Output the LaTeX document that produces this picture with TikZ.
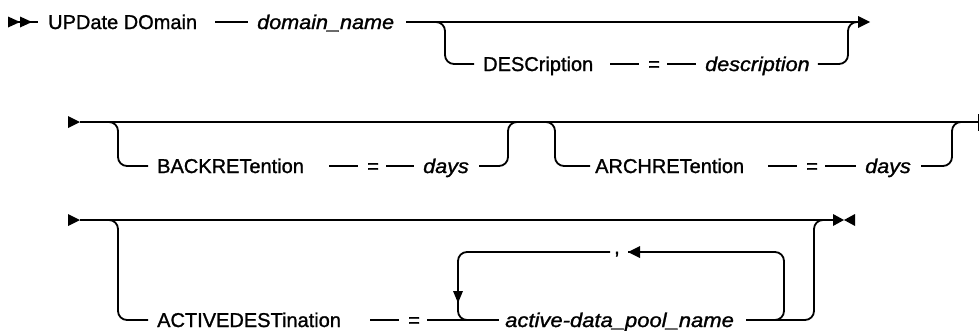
\documentclass[tikz,border=0pt]{standalone}
\usepackage{fontspec}
\setmainfont{Liberation Sans}[FakeBold=1.2, ItalicFeatures={FakeBold=1.2}]
\newcommand{\vtxt}[2][1.08]{\scalebox{#1}[1]{\itshape #2}}
\begin{document}
\begin{tikzpicture}[x=1pt,y=-1pt,
  ln/.style={line width=1.8pt},
  rl/.style={line width=1.8pt, rounded corners=9pt},
  kw/.style={inner sep=0pt, anchor=west, text height=14pt, text depth=0pt, font=\fontsize{20}{24}\selectfont},
]
\useasboundingbox (0,0) rectangle (979,330);
% ---------- row 1 ----------
\coordinate (s1) at (8,22);
\coordinate (s1e) at (38,22);
\fill (8,16.5) -- (20,22) -- (8,27.5) -- cycle;
\fill (20,16.5) -- (32,22) -- (20,27.5) -- cycle;
\draw[ln] (s1) -- (s1e);
\node[kw] (upd) at (48,22) {UPDate DOmain};
\node[kw] (dn) at (257,22) {\vtxt{domain\_name}};
\draw[ln] ([xshift=18]upd.east) -- ([xshift=-9]dn.west);
\coordinate (j1a) at (445,22);
\coordinate (j1b) at (848,22);
\coordinate (e1) at (858,22);
\draw[ln] ([xshift=12]dn.east) -- (e1);
\fill (e1) ++(0,-6) -- ++(12,6) -- ++(-12,6) -- cycle;
\node[kw] (desc) at (483,64) {DESCription};
\node[kw] (eq1) at (648,64) {=};
\node[kw] (dsc) at (705,64) {\vtxt{description}};
\draw[rl] ([xshift=-20]j1a) -- (j1a) -- (j1a |- desc.west) -- ([xshift=-9]desc.west);
\draw[ln] ([xshift=-38]eq1.west) -- ([xshift=-9]eq1.west);
\draw[ln] ([xshift=7]eq1.east) -- ([xshift=-9]dsc.west);
\draw[rl] ([xshift=8]dsc.east) -- (j1b |- dsc.east) -- (j1b) -- (e1);
% ---------- row 2 ----------
\coordinate (s2) at (80,122);
\coordinate (e2) at (979,122);
\fill (68,116) -- (s2) -- (68,128) -- cycle;
\draw[ln] (s2) -- (e2);
\draw[line width=1.2pt] (978.4,114) -- (978.4,131);
\coordinate (a2l) at (118,122);
\coordinate (a2r) at (508,122);
\node[kw] (bk) at (157,166) {BACKRETention};
\node[kw] (eq2) at (367,166) {=};
\node[kw] (dy1) at (423,166) {\vtxt{days}};
\draw[rl] ([xshift=-15]a2l) -- (a2l) -- (a2l |- bk.west) -- ([xshift=-9]bk.west);
\draw[ln] ([xshift=-38]eq2.west) -- ([xshift=-9]eq2.west);
\draw[ln] ([xshift=7]eq2.east) -- ([xshift=-9]dy1.west);
\draw[rl] ([xshift=10]dy1.east) -- (a2r |- dy1.east) -- (a2r) -- ([xshift=12]a2r);
\coordinate (b2l) at (555,122);
\coordinate (b2r) at (952,122);
\node[kw] (ar) at (595,166) {ARCHRETention};
\node[kw] (eq3) at (806,166) {=};
\node[kw] (dy2) at (865,166) {\vtxt{days}};
\draw[rl] ([xshift=-15]b2l) -- (b2l) -- (b2l |- ar.west) -- ([xshift=-5]ar.west);
\draw[ln] ([xshift=-38]eq3.west) -- ([xshift=-9]eq3.west);
\draw[ln] ([xshift=7]eq3.east) -- ([xshift=-9]dy2.west);
\draw[rl] ([xshift=10]dy2.east) -- (b2r |- dy2.east) -- (b2r) -- ([xshift=12]b2r);
% ---------- row 3 ----------
\coordinate (s3) at (80,220);
\coordinate (e3) at (836,220);
\fill (68,214) -- (s3) -- (68,226) -- cycle;
\draw[ln] (s3) -- (e3);
\fill (833,214) -- (844,220) -- (833,226) -- cycle;
\fill (855,214) -- (844,220) -- (855,226) -- cycle;
\coordinate (j3l) at (118,220);
\coordinate (j3r) at (814,220);
\node[kw] (act) at (157,320) {ACTIVEDESTination};
\node[kw] (eq4) at (408,320) {=};
\node[kw] (pool) at (505,320) {\vtxt[1.1]{active-data\_pool\_name}};
\draw[rl] ([xshift=-15]j3l) -- (j3l) -- (j3l |- act.west) -- ([xshift=-9]act.west);
\draw[ln] ([xshift=-38]eq4.west) -- ([xshift=-9]eq4.west);
\draw[ln] ([xshift=7]eq4.east) -- ([xshift=-6]pool.west);
\draw[rl] ([xshift=12]pool.east) -- (j3r |- pool.east) -- (j3r) -- ([xshift=12]j3r);
% repeat loop
\coordinate (lpl) at (458,252);
\coordinate (lpb) at (458,320);
\coordinate (lpr) at (784,252);
\coordinate (lrb) at (784,320);
\coordinate (ct1) at (610,252);
\coordinate (ct2) at (628,252);
\node[kw] (comma) at (614,247) {,};
\draw[rl] (ct1) -- (lpl) -- (lpb) -- ([xshift=15]lpb);
\fill (453,291) -- (463,291) -- (458,303) -- cycle;
\draw[rl] ([xshift=-14]lrb) -- (lrb) -- (lpr) -- (ct2);
\fill (ct2) -- ++(12,-6) -- ++(0,12) -- cycle;
\end{tikzpicture}
\end{document}
